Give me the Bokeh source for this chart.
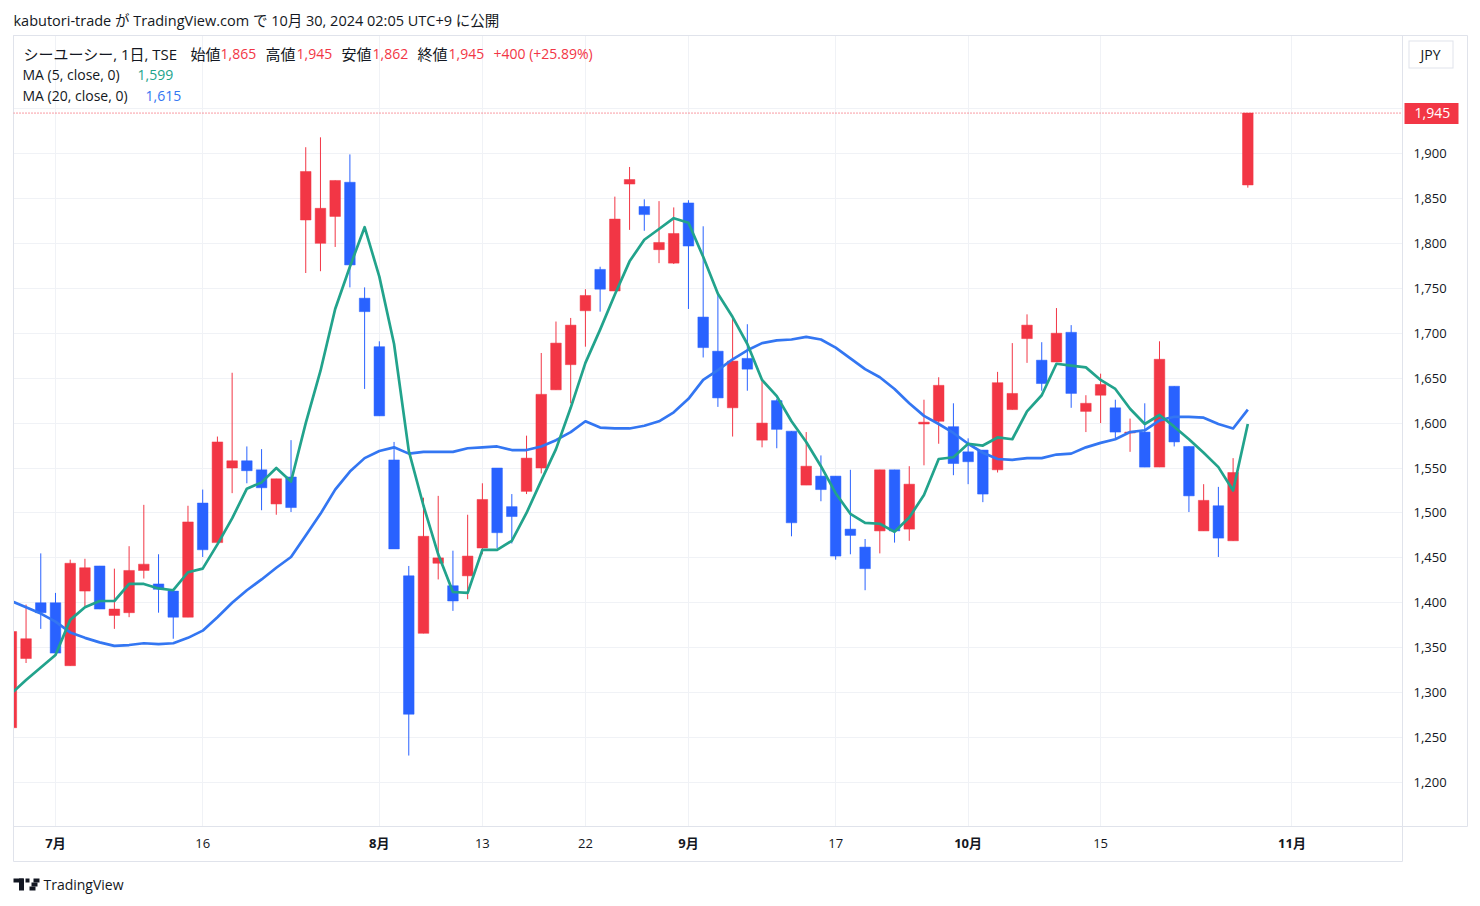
from bokeh.plotting import figure
from bokeh.models import (FixedTicker, NumeralTickFormatter, Span, Label,
                          ColumnDataSource, Range1d, LinearAxis)
from bokeh.embed import file_html
from bokeh.resources import INLINE

# ---------------- data ----------------
opens = [1261, 1338, 1400, 1400, 1330, 1413, 1441, 1386, 1389, 1436,
         1421, 1413, 1384, 1511, 1467, 1550, 1558, 1548, 1510, 1540,
         1826, 1800, 1830, 1868, 1739, 1685, 1559, 1430, 1366, 1444,
         1419, 1430, 1461, 1550, 1507, 1524, 1550, 1637, 1665, 1725,
         1771, 1747, 1866, 1841, 1793, 1778, 1845, 1718, 1680, 1617,
         1672, 1581, 1625, 1591, 1531, 1541, 1541, 1482, 1462, 1480,
         1548, 1482, 1599, 1602, 1596, 1568, 1570, 1548, 1615, 1694,
         1670, 1668, 1701, 1613, 1631, 1617, 1589, 1590, 1551, 1641,
         1574, 1480, 1508, 1469, 1865]
highs = [1368, 1398, 1455, 1411, 1448, 1449, 1441, 1438, 1463, 1509,
         1454, 1413, 1508, 1526, 1585, 1656, 1574, 1571, 1538, 1581,
         1907, 1918, 1870, 1899, 1751, 1691, 1579, 1441, 1517, 1519,
         1458, 1498, 1533, 1550, 1521, 1586, 1678, 1713, 1717, 1749,
         1774, 1852, 1885, 1849, 1847, 1840, 1848, 1819, 1743, 1717,
         1710, 1649, 1627, 1591, 1590, 1564, 1541, 1548, 1471, 1548,
         1548, 1552, 1626, 1651, 1622, 1583, 1570, 1657, 1689, 1721,
         1690, 1728, 1709, 1631, 1655, 1626, 1605, 1622, 1691, 1641,
         1574, 1532, 1529, 1561, 1945]
lows = [1261, 1333, 1371, 1343, 1330, 1396, 1393, 1371, 1384, 1427,
        1389, 1360, 1384, 1451, 1467, 1522, 1533, 1503, 1498, 1501,
        1767, 1769, 1796, 1751, 1638, 1608, 1460, 1230, 1366, 1426,
        1391, 1404, 1454, 1461, 1466, 1521, 1544, 1637, 1622, 1685,
        1724, 1747, 1815, 1814, 1778, 1777, 1727, 1673, 1618, 1585,
        1636, 1573, 1572, 1474, 1531, 1513, 1448, 1454, 1414, 1455,
        1467, 1469, 1553, 1577, 1542, 1532, 1512, 1545, 1615, 1667,
        1636, 1668, 1617, 1590, 1600, 1583, 1568, 1551, 1551, 1574,
        1501, 1480, 1451, 1469, 1862]
closes = [1368, 1360, 1389, 1344, 1444, 1439, 1393, 1393, 1436, 1443,
          1415, 1384, 1490, 1459, 1579, 1558, 1547, 1528, 1538, 1506,
          1880, 1839, 1870, 1776, 1724, 1608, 1460, 1276, 1474, 1450,
          1402, 1452, 1515, 1478, 1496, 1561, 1632, 1689, 1709, 1742,
          1749, 1827, 1871, 1832, 1801, 1811, 1797, 1684, 1628, 1669,
          1660, 1600, 1593, 1489, 1552, 1526, 1452, 1475, 1438, 1548,
          1480, 1532, 1601, 1642, 1555, 1557, 1521, 1645, 1633, 1709,
          1644, 1700, 1633, 1622, 1643, 1590, 1590, 1551, 1671, 1579,
          1519, 1514, 1472, 1545, 1945]
ma5 = [1299, 1314, 1328, 1342, 1381, 1395, 1402, 1402, 1421, 1421,
       1416, 1414, 1434, 1438, 1465, 1494, 1527, 1534, 1550, 1535,
       1600, 1658, 1727, 1774, 1818, 1763, 1688, 1569, 1508, 1454,
       1412, 1411, 1459, 1459, 1469, 1500, 1536, 1571, 1617, 1667,
       1704, 1743, 1780, 1804, 1816, 1828, 1823, 1785, 1744, 1718,
       1688, 1648, 1630, 1602, 1579, 1552, 1522, 1499, 1489, 1488,
       1479, 1495, 1520, 1560, 1562, 1577, 1575, 1584, 1582, 1613,
       1631, 1666, 1664, 1662, 1648, 1638, 1616, 1599, 1609, 1596,
       1582, 1567, 1551, 1525, 1599]
ma20 = [1402, 1395, 1388, 1379, 1367, 1361, 1356, 1352, 1353, 1355,
        1354, 1355, 1361, 1369, 1384, 1400, 1414, 1426, 1439, 1451,
        1475, 1499, 1526, 1546, 1561, 1569, 1573, 1566, 1568, 1568,
        1568, 1572, 1573, 1574, 1570, 1570, 1574, 1581, 1590, 1602,
        1595, 1594, 1594, 1597, 1602, 1612, 1627, 1648, 1659, 1671,
        1681, 1689, 1692, 1693, 1696, 1693, 1684, 1672, 1660, 1651,
        1638, 1622, 1608, 1599, 1589, 1577, 1567, 1560, 1559, 1561,
        1561, 1565, 1566, 1573, 1578, 1582, 1590, 1592, 1603, 1607,
        1607, 1606, 1599, 1594, 1615]

month_ticks = [3, 25, 46, 65, 87]
month_labels = ["7月", "8月", "9月", "10月", "11月"]
day_ticks = [13, 32, 39, 56, 74]
day_labels = ["16", "13", "22", "17", "15"]
price_ticks = [1200, 1250, 1300, 1350, 1400, 1450, 1500, 1550, 1600,
               1650, 1700, 1750, 1800, 1850, 1900, 1950]
currency = "JPY"
currency_level = 2010

# ---------------- styling ----------------
UP = "#f23645"
DOWN = "#2962ff"
MA5_C = "#22a38c"
MA20_C = "#3376f2"
TXT = "#131722"
GRID = "#f0f2f6"
BORDER = "#e0e3eb"
JP = "Noto Sans CJK JP"
LAT = "Open Sans"
MIX = "Open Sans, Noto Sans CJK JP"

W, H = 1480, 906
FL, FR, FT, FB = 13, 1402, 35, 826
X0 = 0.147
X1 = X0 + (FR - FL) / 14.72
Y1 = 1900 + (153 - FT) / 0.8986
Y0 = 1900 - (FB - 153) / 0.8986
EPS_X = 0.01
EPS_Y = 0.2


def dx(px):
    return X0 + (px - FL) * (X1 - X0) / (FR - FL)


def dy(py):
    return Y1 - (py - FT) * (Y1 - Y0) / (FB - FT)


idx = list(range(len(opens)))
colors = [UP if c >= o else DOWN for o, c in zip(opens, closes)]
src = ColumnDataSource(dict(
    x=idx, o=opens, h=highs, l=lows, c=closes,
    top=[max(o, c) for o, c in zip(opens, closes)],
    bot=[min(o, c) for o, c in zip(opens, closes)],
    col=colors, ma5=ma5, ma20=ma20))

p = figure(width=W, height=H, output_backend="svg", toolbar_location=None,
           x_range=Range1d(X0, X1), y_range=Range1d(Y0, Y1),
           y_axis_location="right",
           min_border_left=FL, min_border_right=W - FR,
           min_border_top=FT, min_border_bottom=H - FB)
p.outline_line_color = BORDER
p.background_fill_color = "white"
p.border_fill_color = "white"

# header as the plot title
p.title.text = "kabutori-trade が TradingView.com で 10月 30, 2024 02:05 UTC+9 に公開"
p.title.align = "left"
p.title.offset = 0
p.title.standoff = 12
p.title.text_font = MIX
p.title.text_font_size = "14.5px"
p.title.text_font_style = "normal"
p.title.text_color = TXT

# grid
p.xgrid.ticker = FixedTicker(ticks=sorted(month_ticks + day_ticks))
p.ygrid.ticker = FixedTicker(ticks=price_ticks)
p.xgrid.grid_line_color = GRID
p.ygrid.grid_line_color = GRID


def quiet(ax):
    ax.major_tick_line_color = None
    ax.minor_tick_line_color = None
    ax.major_tick_out = 0
    ax.major_tick_in = 0
    ax.minor_tick_out = 0
    ax.minor_tick_in = 0


def tick_box(levels, label, color, width, t_in, t_out, standoff):
    ax = LinearAxis(ticker=FixedTicker(ticks=levels),
                    major_label_overrides={lv: label for lv in levels})
    ax.axis_line_color = None
    ax.minor_tick_line_color = None
    ax.minor_tick_out = 0
    ax.minor_tick_in = 0
    ax.major_tick_line_color = color
    ax.major_tick_line_width = width
    ax.major_tick_line_cap = "butt"
    ax.major_tick_in = t_in
    ax.major_tick_out = t_out
    ax.major_label_standoff = standoff
    return ax


def edge(bounds):
    ax = LinearAxis(ticker=FixedTicker(ticks=[]), bounds=bounds)
    ax.axis_line_color = BORDER
    quiet(ax)
    ax.major_label_standoff = 0
    return ax


# ---- right side: prices, currency box, separators, outer edge, last price ----
ya = p.yaxis[0]
ya.ticker = FixedTicker(ticks=price_ticks)
ya.formatter = NumeralTickFormatter(format="0,0")
ya.bounds = (Y0, Y1)
ya.axis_line_color = BORDER
quiet(ya)
ya.major_label_standoff = 11
ya.major_label_text_font = LAT
ya.major_label_text_font_size = "13px"
ya.major_label_text_color = TXT

p.add_layout(tick_box([currency_level], "", BORDER, 28, 41, 4, 0), "right")
p.add_layout(tick_box([currency_level], "", "white", 26, 44, -1, 0), "right")
# horizontal separators continuing under the price scale
p.add_layout(tick_box([Y0 + EPS_Y, Y1 - EPS_Y], "", BORDER, 1, 51, 14, 0), "right")
p.add_layout(edge((Y0, Y1)), "right")

pb = tick_box([closes[-1]], f"{closes[-1]:,}", UP, 21, 63, -9, -53)
pb.major_label_text_font = LAT
pb.major_label_text_font_size = "14px"
pb.major_label_text_color = "white"
p.add_layout(pb, "right")

jl = LinearAxis(ticker=FixedTicker(ticks=[currency_level]),
                major_label_overrides={currency_level: currency})
jl.axis_line_color = None
quiet(jl)
jl.major_label_standoff = -47
jl.major_label_text_font = LAT
jl.major_label_text_font_size = "14px"
jl.major_label_text_color = TXT
p.add_layout(jl, "right")

# ---- below: day numbers, bold months, separators, outer edge, logo, footer ----
xa = p.xaxis[0]
xa.ticker = FixedTicker(ticks=day_ticks)
xa.major_label_overrides = {t: s for t, s in zip(day_ticks, day_labels)}
xa.axis_line_color = BORDER
quiet(xa)
xa.major_label_standoff = 12
xa.major_label_text_font = MIX
xa.major_label_text_font_size = "13px"
xa.major_label_text_color = TXT

xm = LinearAxis(ticker=FixedTicker(ticks=month_ticks),
                major_label_overrides={t: s for t, s in zip(month_ticks, month_labels)})
xm.axis_line_color = None
quiet(xm)
xm.major_label_standoff = -17
xm.major_label_text_font = MIX
xm.major_label_text_font_size = "13px"
xm.major_label_text_font_style = "bold"
xm.major_label_text_color = TXT
p.add_layout(xm, "below")
# vertical separators continuing through the time scale
p.add_layout(tick_box([X0 + EPS_X, X1 - EPS_X], "", BORDER, 1, 28, 7, 0), "below")
p.add_layout(edge((X0, X1)), "below")

# small TradingView mark drawn from thick ticks
p.add_layout(tick_box([dx(20.5)], "", TXT, 5, -17, 29, 0), "below")    # stem
p.add_layout(tick_box([dx(18)], "", TXT, 10, 12, -8, 0), "below")      # top bar
p.add_layout(tick_box([dx(27)], "", TXT, 4, 12, -8, 0), "below")       # dot
p.add_layout(tick_box([dx(36)], "", TXT, 6, 12, -8, 0), "below")       # slash top
p.add_layout(tick_box([dx(34)], "", TXT, 6, 8, -4, 0), "below")        # slash mid
p.add_layout(tick_box([dx(32)], "", TXT, 6, 4, 0, 0), "below")         # slash low

foot = LinearAxis(ticker=FixedTicker(ticks=[dx(83)]),
                  major_label_overrides={dx(83): "TradingView"})
foot.axis_line_color = None
quiet(foot)
foot.major_label_standoff = -16
foot.major_label_text_font = LAT
foot.major_label_text_font_size = "14px"
foot.major_label_text_color = TXT
p.add_layout(foot, "below")

# ---- left & top edge of the outer box ----
p.add_layout(edge((Y0, Y1)), "left")
p.add_layout(edge((X0, X1)), "above")

# candles
p.segment(x0="x", y0="l", x1="x", y1="h", color="col", line_width=1, source=src)
p.vbar(x="x", width=0.72, top="top", bottom="bot", fill_color="col",
       line_color="col", line_width=0.5, source=src)

# moving averages
p.line("x", "ma20", source=src, color=MA20_C, line_width=2.7, line_join="round")
p.line("x", "ma5", source=src, color=MA5_C, line_width=2.7, line_join="round")

# last price line
p.add_layout(Span(location=closes[-1], dimension="width", line_color=UP,
                  line_dash="1 2", line_width=1))


# legend rows
def put(text, px, py, color=TXT, font=LAT, size="14px"):
    p.add_layout(Label(x=dx(px), y=dy(py), text=text, text_align="left",
                       text_baseline="middle", text_color=color, text_font=font,
                       text_font_size=size))


chg = closes[-1] - closes[-2]
pct = chg / closes[-2] * 100
put("シーユーシー, 1日, TSE", 23, 53, font=MIX, size="15px")
put("始値", 190, 53, font=JP, size="15px")
put(f"{opens[-1]:,}", 220, 53, UP)
put("高値", 265, 53, font=JP, size="15px")
put(f"{highs[-1]:,}", 296, 53, UP)
put("安値", 341, 53, font=JP, size="15px")
put(f"{lows[-1]:,}", 372, 53, UP)
put("終値", 417, 53, font=JP, size="15px")
put(f"{closes[-1]:,}", 448, 53, UP)
put(f"+{chg} (+{pct:.2f}%)", 493, 53, UP)
put("MA (5, close, 0)", 22, 74)
put(f"{ma5[-1]:,}", 137, 74, MA5_C)
put("MA (20, close, 0)", 22, 95)
put(f"{ma20[-1]:,}", 145, 95, MA20_C)

open("out.html", "w").write(file_html(p, INLINE))
